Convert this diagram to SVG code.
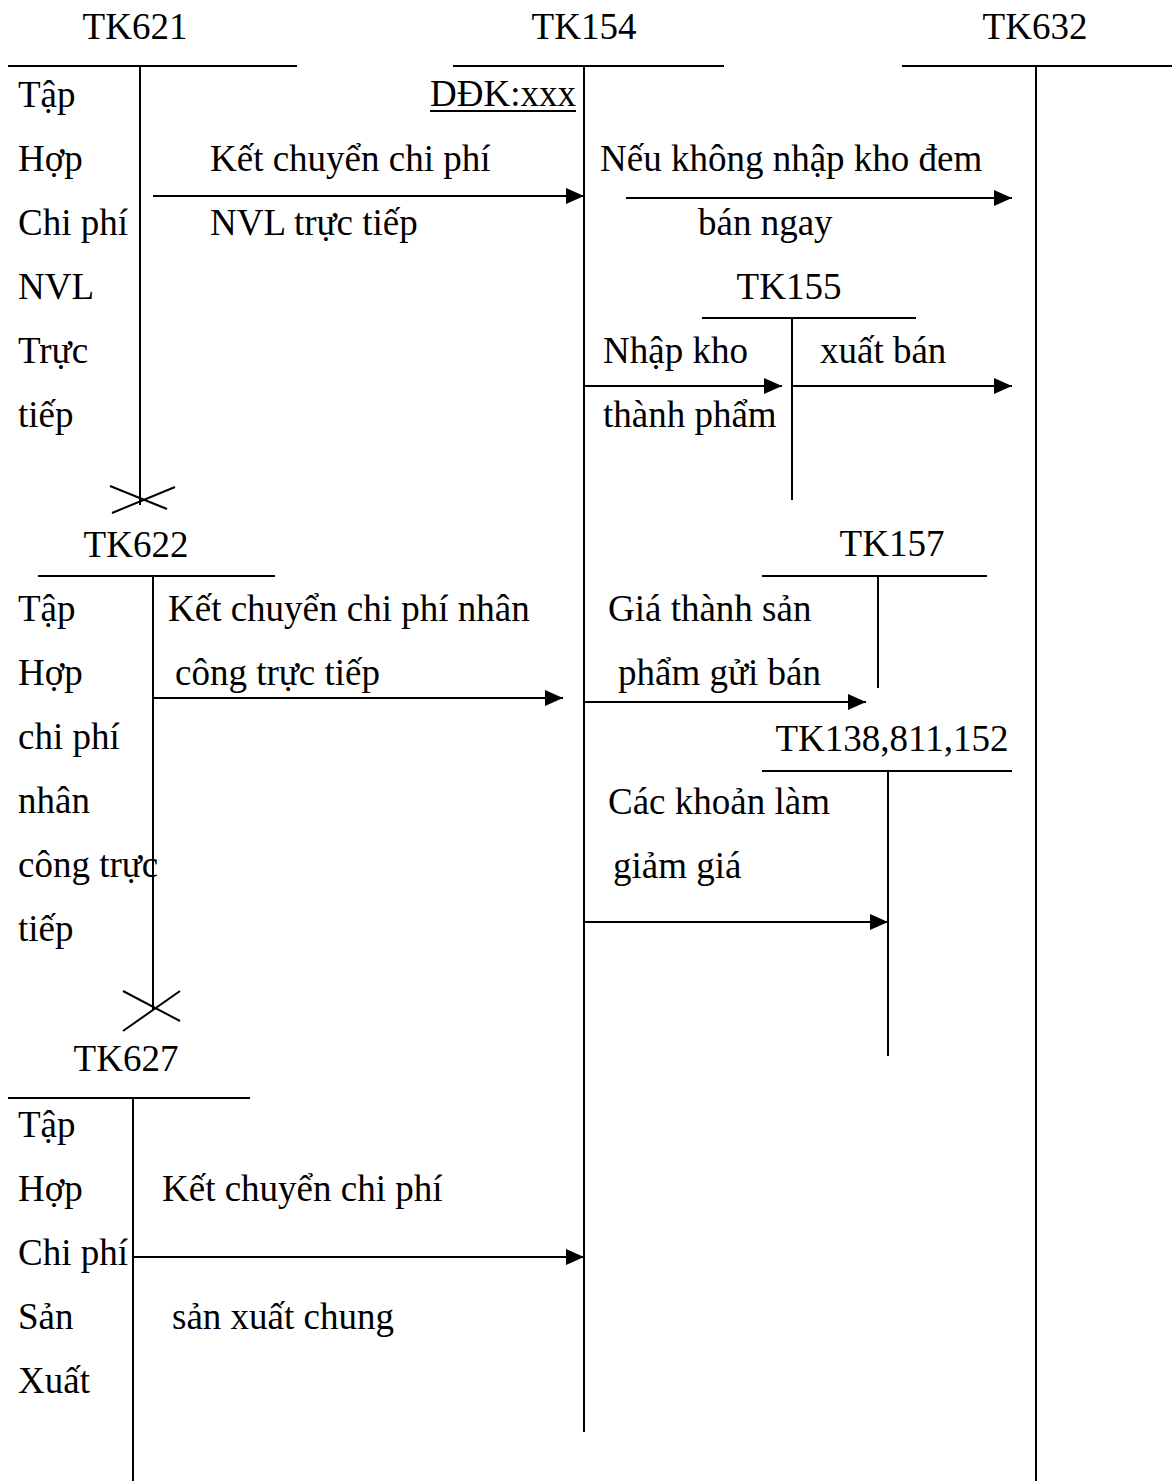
<svg xmlns="http://www.w3.org/2000/svg" width="1172" height="1481" viewBox="0 0 1172 1481">
  <style>
    text { font-family: "Liberation Serif", "Times New Roman", serif; font-size: 37px; fill: #000; }
    .t { stroke: #000; stroke-width: 2; fill: none; }
    .arrow { stroke: #000; stroke-width: 2.2; fill: none; marker-end: url(#head); }
  </style>
  <defs>
    <marker id="head" markerUnits="userSpaceOnUse" markerWidth="20" markerHeight="18" refX="18" refY="8" orient="auto">
      <path d="M0,0 L18,8 L0,16 z" fill="#000"/>
    </marker>
  </defs>
  <rect width="1172" height="1481" fill="#fff"/>

  <!-- T-account TK621 -->
  <g id="tk621">
    <text x="135" y="39" text-anchor="middle">TK621</text>
    <line class="t" x1="8" y1="66" x2="297" y2="66"/>
    <line class="t" x1="140" y1="66" x2="140" y2="505"/>
    <line class="t" x1="110" y1="486" x2="167" y2="509"/>
    <line class="t" x1="112" y1="513" x2="175" y2="487"/>
    <text x="18" y="107">Tập</text>
    <text x="18" y="171">Hợp</text>
    <text x="18" y="235">Chi phí</text>
    <text x="18" y="299">NVL</text>
    <text x="18" y="363">Trực</text>
    <text x="18" y="427">tiếp</text>
  </g>

  <!-- T-account TK154 -->
  <g id="tk154">
    <text x="584" y="39" text-anchor="middle">TK154</text>
    <line class="t" x1="453" y1="66" x2="724" y2="66"/>
    <line class="t" x1="584" y1="66" x2="584" y2="1432"/>
    <text x="576" y="106" text-anchor="end">DĐK:xxx</text>
    <line x1="430" y1="111" x2="576" y2="111" stroke="#000" stroke-width="2"/>
  </g>

  <!-- T-account TK632 -->
  <g id="tk632">
    <text x="1035" y="39" text-anchor="middle">TK632</text>
    <line class="t" x1="902" y1="66" x2="1172" y2="66"/>
    <line class="t" x1="1036" y1="66" x2="1036" y2="1481"/>
  </g>

  <!-- T-account TK155 -->
  <g id="tk155">
    <text x="789" y="299" text-anchor="middle">TK155</text>
    <line class="t" x1="702" y1="318" x2="916" y2="318"/>
    <line class="t" x1="792" y1="318" x2="792" y2="500"/>
  </g>

  <!-- T-account TK157 -->
  <g id="tk157">
    <text x="892" y="556" text-anchor="middle">TK157</text>
    <line class="t" x1="762" y1="576" x2="987" y2="576"/>
    <line class="t" x1="878" y1="576" x2="878" y2="688"/>
  </g>

  <!-- T-account TK138,811,152 -->
  <g id="tk138">
    <text x="892" y="751" text-anchor="middle">TK138,811,152</text>
    <line class="t" x1="762" y1="771" x2="1012" y2="771"/>
    <line class="t" x1="888" y1="771" x2="888" y2="1056"/>
  </g>

  <!-- T-account TK622 -->
  <g id="tk622">
    <text x="136" y="557" text-anchor="middle">TK622</text>
    <line class="t" x1="38" y1="576" x2="275" y2="576"/>
    <line class="t" x1="153" y1="576" x2="153" y2="1010"/>
    <line class="t" x1="123" y1="991" x2="180" y2="1021"/>
    <line class="t" x1="123" y1="1031" x2="180" y2="991"/>
    <text x="18" y="621">Tập</text>
    <text x="18" y="685">Hợp</text>
    <text x="18" y="749">chi phí</text>
    <text x="18" y="813">nhân</text>
    <text x="18" y="877">công trực</text>
    <text x="18" y="941">tiếp</text>
  </g>

  <!-- T-account TK627 -->
  <g id="tk627">
    <text x="126" y="1071" text-anchor="middle">TK627</text>
    <line class="t" x1="8" y1="1098" x2="250" y2="1098"/>
    <line class="t" x1="133" y1="1098" x2="133" y2="1481"/>
    <text x="18" y="1137">Tập</text>
    <text x="18" y="1201">Hợp</text>
    <text x="18" y="1265">Chi phí</text>
    <text x="18" y="1329">Sản</text>
    <text x="18" y="1393">Xuất</text>
  </g>

  <!-- Transfer entries -->
  <g id="connectors">
    <line class="arrow" x1="153" y1="196" x2="584" y2="196"/>
    <line class="arrow" x1="626" y1="198" x2="1012" y2="198"/>
    <line class="arrow" x1="584" y1="386" x2="782" y2="386"/>
    <line class="arrow" x1="792" y1="386" x2="1012" y2="386"/>
    <line class="arrow" x1="153" y1="698" x2="563" y2="698"/>
    <line class="arrow" x1="584" y1="702" x2="866" y2="702"/>
    <line class="arrow" x1="584" y1="922" x2="888" y2="922"/>
    <line class="arrow" x1="133" y1="1257" x2="584" y2="1257"/>
  </g>

  <!-- Entry labels -->
  <g id="labels">
    <text x="210" y="171">Kết chuyển chi phí</text>
    <text x="210" y="235">NVL trực tiếp</text>
    <text x="600" y="171">Nếu không nhập kho đem</text>
    <text x="698" y="235">bán ngay</text>
    <text x="603" y="363">Nhập kho</text>
    <text x="603" y="427">thành phẩm</text>
    <text x="820" y="363">xuất bán</text>
    <text x="168" y="621">Kết chuyển chi phí nhân</text>
    <text x="175" y="685">công trực tiếp</text>
    <text x="608" y="621">Giá thành sản</text>
    <text x="618" y="685">phẩm gửi bán</text>
    <text x="608" y="814">Các khoản làm</text>
    <text x="613" y="878">giảm giá</text>
    <text x="162" y="1201">Kết chuyển chi phí</text>
    <text x="172" y="1329">sản xuất chung</text>
  </g>
</svg>
